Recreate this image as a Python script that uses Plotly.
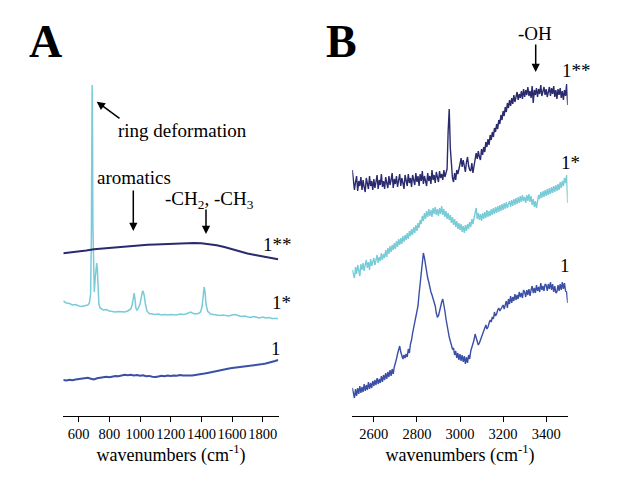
import plotly.graph_objects as go

# page body has an 8px margin; figure is shrunk so the page fits 626x488 exactly
OFF = 8
W, H = 626 - 2 * OFF, 488 - 2 * OFF
T = 80 - OFF
B = H - (416 - OFF)

# ---------------- Panel A data (Raman, 500-1900 cm-1), offset intensities ----------------
a1_x = [500,520,540,560,580,600,620,640,660,680,700,720,740,760,780,800,820,840,860,880,
        900,920,940,960,980,1000,1020,1040,1060,1080,1100,1120,1140,1160,1180,1200,1220,1240,
        1260,1280,1300,1320,1340,1360,1380,1400,1420,1440,1460,1480,1500,1520,1540,1560,1580,
        1600,1620,1640,1660,1680,1700,1720,1740,1760,1780,1800,1820,1840,1860,1880,1900]
a1_y = [36.0,35.5,36.2,35.8,36.5,36.8,37.2,37.5,38.3,37.2,36.6,37.8,38.4,38.9,39.3,38.8,39.6,40.1,
        39.7,40.6,41.2,40.8,41.3,40.5,40.9,40.2,40.7,39.8,40.1,39.3,39.0,39.6,40.2,39.8,40.4,40.1,
        40.6,40.3,40.9,40.5,40.2,40.6,40.4,41.1,41.6,42.0,42.5,43.1,43.8,44.3,45.0,45.6,46.2,47.1,
        47.5,47.9,48.3,48.1,48.8,49.3,49.6,50.2,50.4,51.0,51.5,52.0,52.6,53.2,53.9,55.0,56.0]

a1s_x = [500,520,540,560,580,600,620,640,660,670,678,683,686,688,690,693,697,702,708,714,718,722,
         726,732,740,760,780,800,820,840,860,880,900,920,940,950,958,962,967,973,980,990,1000,1008,
         1015,1020,1028,1035,1045,1060,1080,1100,1120,1140,1160,1180,1200,1220,1240,1260,1280,1300,
         1320,1330,1340,1360,1380,1395,1405,1412,1418,1424,1430,1440,1460,1480,1500,1520,1540,1560,
         1580,1600,1620,1640,1660,1680,1700,1720,1740,1760,1780,1800,1820,1840,1860,1880,1900]
a1s_y = [115,113,112.5,111,111.5,110,109.5,110.5,111,113,122,180,280,331,300,190,140,124,138,150,
         153,147,128,112,108,106,106.5,105,104.5,104,104.5,104,104,105,107,112,121,123,117,108,106,
         108,112,120,124,125,120,112,105,102.5,102,101.5,102,101,101.5,101,101.5,101,101,102,101.5,
         102,103,104,103,102,102.5,104,110,122,129,124,112,105,102,101.5,101,100.5,101,100.5,100,101,
         101.5,100.5,99.5,100,99,98.5,99.5,98.5,98,99,98,98.5,97.5,97.5,97.5]

a1ss_x = [500,550,600,650,700,750,800,850,900,950,1000,1050,1100,1150,1200,1250,1300,1350,1400,
          1450,1500,1550,1600,1650,1700,1750,1800,1850,1900]
a1ss_y = [162.7,163.5,164.5,165.5,166.8,167.5,168.3,169.0,169.8,170.3,170.8,171.2,171.6,172.0,172.4,
          172.7,172.9,173.0,172.8,172.0,170.8,169.0,166.8,164.5,162.5,161.0,159.8,158.3,156.8]

# ---------------- Panel B data (2500-3500 cm-1, sampled every 5 cm-1) ----------------
b_x = list(range(2500, 3501, 5))

b1ss_y = [246,236,226,234,240,225,235,230,239,226,
          236,229,224,238,231,227,240,230,235,226,
          237,228,234,241,227,236,231,242,229,235,
          227,239,233,228,240,231,236,243,228,237,
          232,240,229,237,242,230,238,233,227,241,
          235,230,242,233,238,229,241,235,231,243,
          234,240,230,242,235,245,232,240,236,230,
          243,235,240,232,246,236,241,233,244,237,
          234,245,238,242,236,246,239,243,247,285,
          307,268,246,238,234,243,236,246,242,249,
          252,258,249,256,248,244,254,259,250,246,
          245,253,243,251,257,263,257,265,259,256,
          267,261,269,264,274,269,277,271,281,276,
          284,279,288,284,292,287,296,292,301,296,
          305,300,309,304,313,308,316,310,318,312,
          321,314,319,324,316,322,318,325,317,327,
          319,326,321,329,320,325,318,330,313,326,
          321,328,319,327,322,331,320,326,329,321,
          327,319,325,329,320,328,322,330,319,326,
          317,327,321,328,318,325,316,326,320,332,
          311]

b1s_y = [146,141,138,149,142,151,144,140,152,146,
         153,145,151,156,148,154,146,157,150,155,
         158,151,156,161,153,159,155,163,156,162,
         158,166,159,168,162,170,164,171,166,173,
         167,175,169,177,171,178,172,180,174,181,
         176,183,177,185,180,187,181,189,183,191,
         185,193,188,196,192,200,195,203,197,205,
         199,207,200,206,199,208,202,209,201,207,
         200,208,202,210,201,207,199,205,197,203,
         196,201,193,199,191,197,189,195,187,193,
         186,192,184,190,183,191,185,192,187,194,
         189,197,192,200,203,208,197,203,196,202,
         195,203,197,204,198,206,199,205,200,207,
         201,208,202,209,203,210,204,211,205,212,
         206,213,207,214,208,212,215,209,216,210,
         217,211,218,212,219,213,220,214,221,215,
         219,213,221,215,222,214,220,211,217,209,
         215,208,217,221,217,224,218,225,219,226,
         220,227,221,228,222,229,223,230,224,231,
         225,232,226,234,228,235,230,238,233,241,
         213]

b1_y = [28,21,18,27,20,28,22,30,23,29,
        24,32,25,31,26,34,27,33,28,35,
        30,36,31,38,32,37,33,40,34,41,
        36,43,37,44,39,46,40,47,42,49,
        52,57,62,66,70,64,60,57,61,58,
        62,59,67,63,72,76,83,88,95,98,
        102,110,122,132,148,156,163,158,150,142,
        138,134,128,124,121,118,114,110,103,99,
        100,106,110,114,117,112,105,97,90,84,
        79,75,72,67,68,61,65,58,63,56,
        62,55,61,54,60,52,59,53,61,57,
        65,68,72,76,82,78,74,71,73,76,
        80,83,84,88,91,87,89,93,96,94,
        99,97,104,100,102,106,108,105,107,110,
        111,107,113,115,108,117,112,120,113,119,
        115,122,116,121,117,124,119,123,118,126,
        124,119,126,121,127,120,126,130,123,128,
        123,131,125,129,124,133,126,130,125,132,
        131,125,132,127,134,126,132,124,130,123,
        124,131,125,132,126,134,127,133,125,124,
        113]

NAVY = "#2a2a6e"
CYAN = "#78ccd8"
BLUE = "#3a4fa5"

fig = go.Figure()
fig.add_trace(go.Scatter(x=a1_x, y=a1_y, mode="lines", line=dict(color=BLUE, width=2),
                         xaxis="x", yaxis="y"))
fig.add_trace(go.Scatter(x=a1s_x, y=a1s_y, mode="lines", line=dict(color=CYAN, width=1.5),
                         xaxis="x", yaxis="y"))
fig.add_trace(go.Scatter(x=a1ss_x, y=a1ss_y, mode="lines", line=dict(color=NAVY, width=2),
                         xaxis="x", yaxis="y"))
fig.add_trace(go.Scatter(x=b_x, y=b1_y, mode="lines", line=dict(color=BLUE, width=1.4),
                         xaxis="x2", yaxis="y2"))
fig.add_trace(go.Scatter(x=b_x, y=b1s_y, mode="lines", line=dict(color=CYAN, width=1.4),
                         xaxis="x2", yaxis="y2"))
fig.add_trace(go.Scatter(x=b_x, y=b1ss_y, mode="lines", line=dict(color=NAVY, width=1.4),
                         xaxis="x2", yaxis="y2"))

FONT = "Liberation Serif"
axcommon = dict(showline=True, linecolor="black", linewidth=1, ticks="outside", ticklen=5,
                tickcolor="black", showgrid=False, zeroline=False, tickangle=0,
                tickfont=dict(family=FONT, size=14.5, color="black"),
                title=dict(text="wavenumbers (cm<sup>-1</sup>)",
                           font=dict(family=FONT, size=18, color="black"), standoff=2))
yaxcommon = dict(visible=False, range=[0, H - T - B], fixedrange=True)

def px(x):
    return (x - OFF) / W

def py(y):
    return (416 - y) / (H - T - B)

fig.update_layout(
    width=W, height=H, margin=dict(l=0, r=0, t=T, b=B),
    paper_bgcolor="white", plot_bgcolor="white", showlegend=False,
    xaxis=dict(domain=[px(63.3), px(278.7)], range=[500, 1904],
               tickvals=[600, 800, 1000, 1200, 1400, 1600, 1800], anchor="y", **axcommon),
    yaxis=dict(domain=[0, 1], anchor="x", **yaxcommon),
    xaxis2=dict(domain=[px(352.3), px(567.7)], range=[2500, 3500],
                tickvals=[2600, 2800, 3000, 3200, 3400], anchor="y2", **axcommon),
    yaxis2=dict(domain=[0, 1], anchor="x2", **yaxcommon),
)

def text(x, y, s, size=19, bold=False):
    fig.add_annotation(x=px(x), y=py(y), xref="paper", yref="paper",
                       text=("<b>%s</b>" % s) if bold else s,
                       showarrow=False, xanchor="center", yanchor="middle",
                       font=dict(family=FONT, size=size, color="black"))

def arrow(tx, ty, sx, sy):
    fig.add_annotation(x=px(tx), y=py(ty), xref="paper", yref="paper", text="",
                       showarrow=True, ax=sx - tx, ay=sy - ty, arrowhead=2, arrowsize=1.1,
                       arrowwidth=1.5, arrowcolor="black")

text(45, 42, "A", size=46, bold=True)
text(341, 42, "B", size=46, bold=True)

text(182, 130, "ring deformation")
arrow(96.7, 101.7, 121, 119.5)
text(134, 177, "aromatics")
arrow(133.3, 231, 133.3, 189)
text(209, 200, "-CH<sub>2</sub>, -CH<sub>3</sub>")
arrow(206, 234, 206, 208)
text(535, 33, "-OH")
arrow(535.7, 72, 535.7, 43)

text(277, 244, "1**")
text(281, 302, "1*")
text(276, 348, "1")
text(576, 70, "1**")
text(570, 162, "1*")
text(565, 265, "1")

fig.write_html("out.html")
